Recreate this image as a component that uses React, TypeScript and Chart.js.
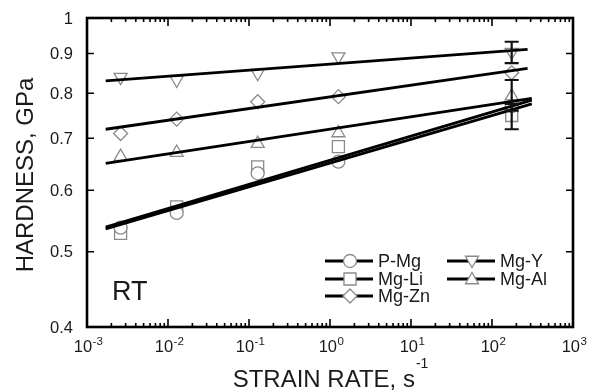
import React, { useEffect, useRef } from 'react';
import { Chart, registerables } from 'chart.js';
import { drawPoint } from 'chart.js/helpers';

Chart.register(...registerables);

// ---- data ----
const seriesNames = ['P-Mg', 'Mg-Li', 'Mg-Zn', 'Mg-Y', 'Mg-Al'];
const strainRates = [0.0026, 0.0128, 0.128, 1.27, 175];
const pMg = [0.537, 0.561, 0.631, 0.653, 0.77];
const mgLi = [0.528, 0.571, 0.643, 0.683, 0.749];
const mgZn = [0.71, 0.741, 0.78, 0.792, 0.85];
const mgY = [0.839, 0.832, 0.849, 0.892, 0.904];
const mgAl = [0.663, 0.671, 0.689, 0.711, 0.793];
const seriesValues = [pMg, mgLi, mgZn, mgY, mgAl];

const fitStartX = [0.0017, 0.0017, 0.0017, 0.0017, 0.0017];
const fitEndX = [310, 310, 275, 275, 310];
const fitStartY = [0.535, 0.538, 0.719, 0.83, 0.65];
const fitEndY = [0.775, 0.784, 0.861, 0.911, 0.788];

const errLow: (number | null)[] = [null, 0.719, null, 0.875, 0.76];
const errHigh: (number | null)[] = [null, 0.775, null, 0.932, 0.832];

const xTickExponents = [-3, -2, -1, 0, 1, 2, 3];
const yTickValues = [0.4, 0.5, 0.6, 0.7, 0.8, 0.9, 1];
const yTickLabels = ['0.4', '0.5', '0.6', '0.7', '0.8', '0.9', '1'];

const markerStyles = ['circle', 'rect', 'rectRot', 'triangle', 'triangle'];
const markerRotation = [0, 0, 0, 180, 0];
const markerRadius = [6.5, 8.5, 7, 7.5, 7.5];

const FONT = '"Liberation Sans", Arial, Helvetica, sans-serif';
const TEXT = '#1a1a1a';
const MARKER = '#8a8a8a';

const decorPlugin = {
  id: 'decor',
  afterDatasetsDraw(chart: any) {
    const ctx = chart.ctx;
    const xs = chart.scales.x;
    const ys = chart.scales.y;
    ctx.save();
    ctx.strokeStyle = '#111';
    ctx.lineWidth = 2.2;
    seriesValues.forEach((vals, i) => {
      const lo = errLow[i];
      const hi = errHigh[i];
      if (lo == null || hi == null) return;
      const px = xs.getPixelForValue(strainRates[strainRates.length - 1]);
      const yl = ys.getPixelForValue(lo);
      const yh = ys.getPixelForValue(hi);
      ctx.beginPath();
      ctx.moveTo(px, yl);
      ctx.lineTo(px, yh);
      ctx.moveTo(px - 7, yl);
      ctx.lineTo(px + 7, yl);
      ctx.moveTo(px - 7, yh);
      ctx.lineTo(px + 7, yh);
      ctx.stroke();
    });
    ctx.restore();
  },
  afterDraw(chart: any) {
    const ctx = chart.ctx;
    const xs = chart.scales.x;
    const ys = chart.scales.y;
    const a = chart.chartArea;
    ctx.save();
    // frame
    ctx.strokeStyle = '#000';
    ctx.lineWidth = 2.6;
    ctx.strokeRect(a.left, a.top, a.right - a.left, a.bottom - a.top);
    // x ticks (major + minor), bottom & top
    ctx.lineWidth = 1.6;
    ctx.beginPath();
    for (let e = xTickExponents[0]; e <= xTickExponents[xTickExponents.length - 1]; e++) {
      const px = xs.getPixelForValue(Math.pow(10, e));
      ctx.moveTo(px, a.bottom);
      ctx.lineTo(px, a.bottom - 8);
      ctx.moveTo(px, a.top);
      ctx.lineTo(px, a.top + 8);
      if (e < xTickExponents[xTickExponents.length - 1]) {
        for (let m = 2; m <= 9; m++) {
          const mx = xs.getPixelForValue(m * Math.pow(10, e));
          ctx.moveTo(mx, a.bottom);
          ctx.lineTo(mx, a.bottom - 4);
          ctx.moveTo(mx, a.top);
          ctx.lineTo(mx, a.top + 4);
        }
      }
    }
    // y ticks left & right
    yTickValues.forEach((v) => {
      const py = ys.getPixelForValue(v);
      ctx.moveTo(a.left, py);
      ctx.lineTo(a.left + 7, py);
      ctx.moveTo(a.right, py);
      ctx.lineTo(a.right - 7, py);
    });
    ctx.stroke();

    // y tick labels
    ctx.fillStyle = TEXT;
    ctx.font = `16.5px ${FONT}`;
    ctx.textAlign = 'right';
    ctx.textBaseline = 'middle';
    yTickValues.forEach((v, i) => {
      ctx.fillText(yTickLabels[i], a.left - 14, ys.getPixelForValue(v) + 1);
    });

    // x tick labels with superscripts
    ctx.textBaseline = 'alphabetic';
    ctx.textAlign = 'left';
    xTickExponents.forEach((e) => {
      const px = xs.getPixelForValue(Math.pow(10, e));
      const base = '10';
      const exp = e < 0 ? '-' + Math.abs(e) : String(e);
      ctx.font = `16.5px ${FONT}`;
      const wb = ctx.measureText(base).width;
      ctx.font = `11.5px ${FONT}`;
      const we = ctx.measureText(exp).width;
      const x0 = px - (wb + we) / 2 + 1;
      ctx.font = `16.5px ${FONT}`;
      ctx.fillText(base, x0, a.bottom + 25);
      ctx.font = `11.5px ${FONT}`;
      ctx.fillText(exp, x0 + wb + 0.5, a.bottom + 18);
    });

    // x title with superscript
    ctx.font = `24px ${FONT}`;
    const xt = 'STRAIN RATE, s';
    const wxt = ctx.measureText(xt).width;
    ctx.font = `14px ${FONT}`;
    const sup = '-1';
    const wsup = ctx.measureText(sup).width;
    const cx = (a.left + a.right) / 2;
    const xStart = cx - (wxt + wsup) / 2;
    ctx.font = `24px ${FONT}`;
    ctx.fillText(xt, xStart, 387);
    ctx.font = `14px ${FONT}`;
    ctx.fillText(sup, xStart + wxt + 1, 368);

    // y title
    ctx.save();
    ctx.translate(25, 175);
    ctx.rotate(-Math.PI / 2);
    ctx.font = `24px ${FONT}`;
    ctx.textAlign = 'center';
    ctx.textBaseline = 'middle';
    ctx.fillText('HARDNESS, GPa', 0, 1);
    ctx.restore();

    // RT label
    ctx.font = `27px ${FONT}`;
    ctx.textAlign = 'left';
    ctx.textBaseline = 'alphabetic';
    ctx.fillText('RT', a.left + 25, 300);

    // legend
    const legendPos = [
      [325, 261], [325, 279], [325, 296], [447, 261], [447, 279],
    ];
    seriesNames.forEach((name, i) => {
      const [lx, ly] = legendPos[i];
      ctx.strokeStyle = '#000';
      ctx.lineWidth = 2.8;
      ctx.beginPath();
      ctx.moveTo(lx, ly);
      ctx.lineTo(lx + 48, ly);
      ctx.stroke();
      ctx.fillStyle = '#fff';
      ctx.strokeStyle = MARKER;
      ctx.lineWidth = 1.3;
      drawPoint(ctx, {
        pointStyle: markerStyles[i],
        radius: markerRadius[i],
        rotation: markerRotation[i],
        borderWidth: 1.3,
      } as any, lx + 25, ly + (markerStyles[i] === 'triangle' ? (markerRotation[i] ? -1 : 1) : 0));
      ctx.fillStyle = TEXT;
      ctx.font = `18px ${FONT}`;
      ctx.textBaseline = 'middle';
      ctx.fillText(name, lx + 53, ly + 1);
    });
    ctx.restore();
  },
};

export default function App() {
  const ref = useRef<HTMLCanvasElement | null>(null);
  useEffect(() => {
    if (!ref.current) return;
    const pointSets = seriesNames.map((name, i) => ({
      label: name,
      data: strainRates.map((x, j) => ({ x, y: seriesValues[i][j] })),
      showLine: false,
      pointStyle: markerStyles[i],
      pointRotation: markerRotation[i],
      pointRadius: markerRadius[i],
      pointBorderColor: MARKER,
      pointBackgroundColor: 'rgba(255,255,255,0.9)',
      pointBorderWidth: 1.3,
      order: 1,
    }));
    const fitSets = seriesNames.map((name, i) => ({
      label: name + ' fit',
      data: [
        { x: fitStartX[i], y: fitStartY[i] },
        { x: fitEndX[i], y: fitEndY[i] },
      ],
      showLine: true,
      borderColor: '#000',
      borderWidth: 2.8,
      pointRadius: 0,
      order: 0,
    }));
    const chart = new Chart(ref.current, {
      type: 'scatter',
      data: { datasets: [...pointSets, ...fitSets] as any },
      options: {
        animation: false,
        responsive: false,
        devicePixelRatio: 1,
        events: [],
        layout: { padding: { top: 18, right: 19, left: 0, bottom: 0 } },
        plugins: { legend: { display: false }, tooltip: { enabled: false } },
        scales: {
          x: {
            type: 'logarithmic',
            min: 0.001,
            max: 1000,
            grid: { display: false },
            border: { display: false },
            ticks: { display: false },
            afterBuildTicks: (s: any) => {
              s.ticks = xTickExponents.map((e) => ({ value: Math.pow(10, e) }));
            },
            afterFit: (s: any) => {
              s.height = 63;
            },
          },
          y: {
            type: 'logarithmic',
            min: 0.4,
            max: 1,
            grid: { display: false, drawTicks: false },
            border: { display: false },
            ticks: { display: false },
            afterBuildTicks: (s: any) => {
              s.ticks = yTickValues.map((v) => ({ value: v }));
            },
            afterFit: (s: any) => {
              s.width = 87;
            },
          },
        },
      } as any,
      plugins: [decorPlugin],
    });
    return () => chart.destroy();
  }, []);
  return (
    <div style={{ position: 'absolute', left: 0, top: 0, width: 592, height: 390, background: '#fff' }}>
      <canvas ref={ref} width={592} height={390} style={{ width: 592, height: 390 }} />
    </div>
  );
}
